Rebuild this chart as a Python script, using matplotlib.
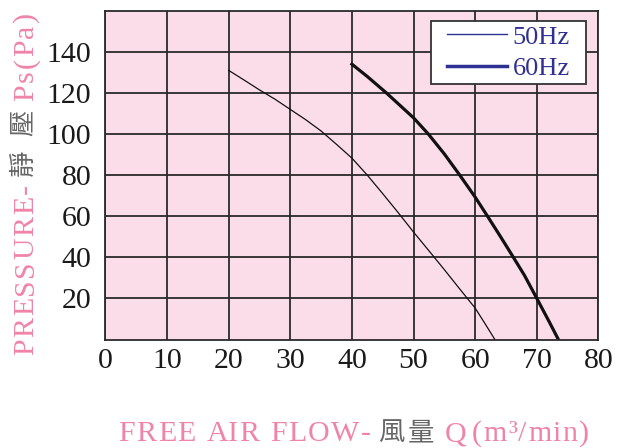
import matplotlib
matplotlib.use("Agg")
import matplotlib.pyplot as plt
from matplotlib.lines import Line2D
from matplotlib.font_manager import FontProperties

# data
flow_50 = [20, 22.5, 25, 27.5, 30, 32.5, 35, 37.5, 40, 42.5, 45, 47.5, 50, 52.5, 55, 57.5, 60, 61.5, 63.2]
pres_50 = [131, 126.3, 121.5, 117, 112, 107, 101.5, 95, 88.3, 80, 71, 61.8, 52.3, 43.2, 34, 24.6, 15.3, 8.2, 0]
flow_60 = [40, 42.5, 45.6, 50, 52.4, 55, 57.5, 60, 62, 64, 66.2, 68, 70, 72, 73.5]
pres_60 = [134, 128, 120, 107.9, 100, 90.3, 80, 69.3, 60, 50.6, 40, 31.2, 20, 8.7, 0]

x_ticks = [0, 10, 20, 30, 40, 50, 60, 70, 80]
y_ticks = [20, 40, 60, 80, 100, 120, 140]

pink = "#f084a8"
grey = "#666666"
navy = "#2e3192"

plt.rcParams["font.family"] = ["Liberation Serif", "Noto Sans CJK TC"]

fig = plt.figure(figsize=(6.17, 4.48), dpi=100)
ax = fig.add_axes([0.1707, 0.242, 0.7993, 0.734])
ax.set_facecolor("#fbdde9")
ax.set_xlim(0, 80)
ax.set_ylim(0, 160)
ax.set_xticks(x_ticks)
ax.set_yticks(y_ticks)
ax.tick_params(length=0, labelsize=21.5, colors="#1a1a1a")
ax.tick_params(axis="y", pad=10)
ax.tick_params(axis="x", pad=6)
ax.grid(True, color="#2a2a2a", lw=1.3)
for s in ax.spines.values():
    s.set_color("#2a2a2a")
    s.set_linewidth(1.3)

ax.plot(flow_50, pres_50, color="#111111", lw=0.9)
ax.plot(flow_60, pres_60, color="#111111", lw=2.3)

# legend: content anchored by its upper right corner, frame padded wider than tall
handles = [Line2D([], [], color=navy, lw=1.0), Line2D([], [], color=navy, lw=2.5)]
leg = ax.legend(handles, ["50Hz", "60Hz"], loc="upper right",
                bbox_to_anchor=((570 - 105.3) / 493.3, (339.5 - 25) / 328.8),
                fontsize=19, frameon=True, fancybox=False, framealpha=1,
                edgecolor="#333333", handlelength=2.3, handletextpad=0.2,
                labelspacing=0.32, borderpad=0, borderaxespad=0)
leg.get_frame().set_linewidth(1.3)
leg.legendPatch.set_boxstyle("square", pad=0.6)
leg.legendPatch.set_mutation_aspect(0.25)
for t in leg.get_texts():
    t.set_color(navy)

# axis titles: letter-spaced pieces, CJK part in grey
renderer = fig.canvas.get_renderer()
W, H = fig.bbox.width, fig.bbox.height
latin = FontProperties(family=["Liberation Serif"], size=21.5)
cjk = FontProperties(family=["Noto Sans CJK TC"], size=19)


def width(s, fp):
    bar = renderer.get_text_width_height_descent("|", fp, ismath=False)[0]
    return renderer.get_text_width_height_descent(s + "|", fp, ismath=False)[0] - bar


def spaced(s, start, end, fixed, color, fp, vertical=False):
    gap = (end - start - width(s, fp)) / max(len(s) - 1, 1)
    for i, ch in enumerate(s):
        pos = start + width(s[:i], fp) + i * gap
        if vertical:
            fig.text(fixed / W, pos / H, ch, color=color, fontproperties=fp,
                     rotation=90, rotation_mode="anchor", ha="left", va="baseline")
        else:
            fig.text(pos / W, fixed / H, ch, color=color, fontproperties=fp,
                     ha="left", va="baseline")


# x title (pixel positions, y measured from bottom)
spaced("FREE AIR FLOW-", 118, 369, 448 - 441, pink, latin)
spaced("風", 378, 406, 448 - 440, grey, cjk)
spaced("量", 408, 436, 448 - 440, grey, cjk)
spaced("Q", 445, 468, 448 - 441, pink, latin)
spaced("(m³/min)", 472, 589, 448 - 441, pink, latin)

# y title, reading bottom to top
spaced("PRESSURE-", 448 - 355, 448 - 184, 33, pink, latin, vertical=True)
spaced("靜", 448 - 176, 448 - 148, 31, grey, cjk, vertical=True)
spaced("壓", 448 - 136, 448 - 108, 31, grey, cjk, vertical=True)
spaced("Ps(Pa)", 448 - 101, 448 - 12, 33, pink, latin, vertical=True)

fig.savefig("out.png", dpi=100)
